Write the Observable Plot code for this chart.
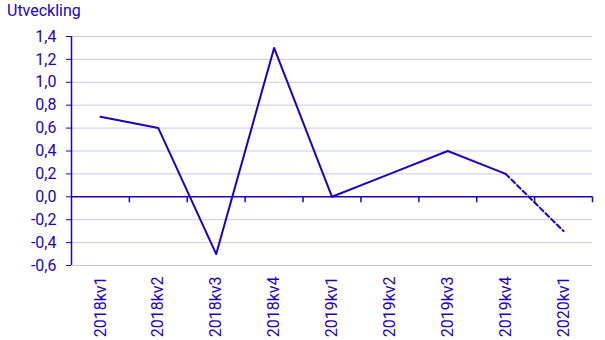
<!DOCTYPE html>
<html>
<head>
<meta charset="utf-8">
<script src="https://cdn.jsdelivr.net/npm/d3@7"></script>
<script src="https://cdn.jsdelivr.net/npm/@observablehq/plot@0.6"></script>
<style>
  html, body { margin: 0; padding: 0; background: #fff; }
  #title { font-family: Roboto, sans-serif; font-size: 16px; color: #1E00BE; height: 28px; line-height: 16px; padding: 3px 0 0 7px; box-sizing: border-box; }
</style>
</head>
<body>
<div id="title">Utveckling</div>
<div id="chart"></div>
<script>
const quarters = ["2018kv1","2018kv2","2018kv3","2018kv4","2019kv1","2019kv2","2019kv3","2019kv4","2020kv1"];
const values = [0.7, 0.6, -0.5, 1.3, 0.0, 0.2, 0.4, 0.2, -0.3];
const yTicks = [-0.6, -0.4, -0.2, 0, 0.2, 0.4, 0.6, 0.8, 1.0, 1.2, 1.4];
const forecastFrom = 7; // last solid point index

const blue = "#1E00BE";
const grid = "#c8c8ee";
const sv = d3.formatLocale({decimal: ",", thousands: " ", grouping: [3], currency: ["", " kr"], minus: "-"});
const fmt = sv.format(".1f");

const pts = quarters.map((q, i) => ({i, q, v: values[i]}));
const solid = pts.slice(0, forecastFrom + 1);
const dashed = pts.slice(forecastFrom);
const bounds = quarters.map((q, i) => i + 0.5);

const chart = Plot.plot({
  width: 605,
  height: 312,
  marginLeft: 71,
  marginRight: 13,
  marginTop: 8,
  marginBottom: 75,
  style: {fontFamily: "Roboto, sans-serif", fontSize: "16px", color: blue, background: "#fff", overflow: "visible"},
  x: {type: "linear", domain: [-0.5, quarters.length - 0.5], axis: null},
  y: {domain: [yTicks[0], yTicks[yTicks.length - 1]], ticks: yTicks, tickFormat: fmt, tickSize: 5, tickPadding: 10, label: null},
  marks: [
    Plot.ruleY(yTicks.filter(d => d !== 0), {stroke: grid, strokeWidth: 1}),
    Plot.ruleX([-0.5], {stroke: blue, strokeWidth: 1.5}),
    Plot.ruleY([0], {stroke: blue, strokeWidth: 1.5}),
    Plot.ruleX(bounds, {y1: 0, y2: 0, insetBottom: -6, stroke: blue, strokeWidth: 1.5}),
    Plot.line(solid, {x: "i", y: "v", stroke: blue, strokeWidth: 2}),
    Plot.line(dashed, {x: "i", y: "v", stroke: blue, strokeWidth: 2, strokeDasharray: "5,3"}),
    Plot.text(pts, {x: "i", y: yTicks[0], text: "q", rotate: -90, textAnchor: "end", lineAnchor: "middle", dy: 11, fill: blue, fontSize: 16})
  ]
});
document.getElementById("chart").appendChild(chart);
</script>
</body>
</html>
